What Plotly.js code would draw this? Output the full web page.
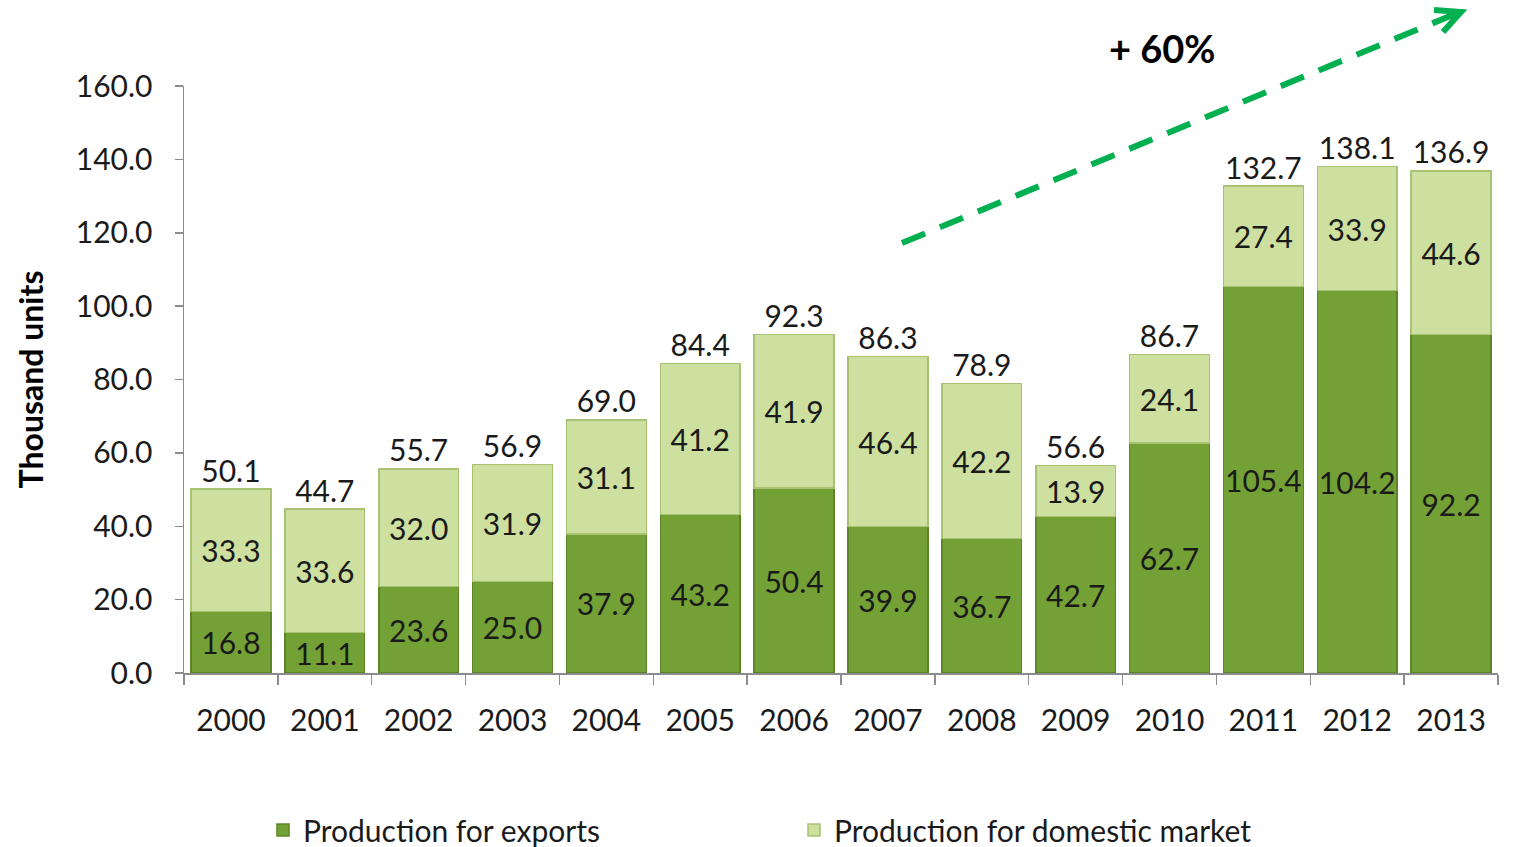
<!DOCTYPE html>
<html>
<head>
<meta charset="utf-8">
<script src="https://cdn.plot.ly/plotly-3.0.1.min.js"></script>
<style>html,body{margin:0;padding:0;background:#fff;}#chart{width:1516px;height:847px;}</style>
</head>
<body>
<div id="chart"></div>
<script>
const years = ["2000","2001","2002","2003","2004","2005","2006","2007","2008","2009","2010","2011","2012","2013"];
const exportsVals = [16.8, 11.1, 23.6, 25.0, 37.9, 43.2, 50.4, 39.9, 36.7, 42.7, 62.7, 105.4, 104.2, 92.2];
const domesticVals = [33.3, 33.6, 32.0, 31.9, 31.1, 41.2, 41.9, 46.4, 42.2, 13.9, 24.1, 27.4, 33.9, 44.6];
const totals = [50.1, 44.7, 55.7, 56.9, 69.0, 84.4, 92.3, 86.3, 78.9, 56.6, 86.7, 132.7, 138.1, 136.9];
const yTicks = [0, 20, 40, 60, 80, 100, 120, 140, 160];

const FONT = "Lato, 'Open Sans', sans-serif";
const W = 1516, H = 847;
const M = {l: 184, r: 18, t: 86, b: 174, autoexpand: false};
const pw = W - M.l - M.r, ph = H - M.t - M.b;
const px = x => (x - M.l) / pw;
const py = y => (H - M.b - y) / ph;

const traces = [
  {
    type: 'bar', name: 'Production for exports', x: years, y: exportsVals,
    text: exportsVals.map(v => v.toFixed(1)), textposition: 'inside', insidetextanchor: 'middle', textangle: 0,
    textfont: {family: FONT, size: 30, color: '#1a1a1a'},
    marker: {color: '#74a136', line: {color: '#5c8626', width: 1.5}},
    hoverinfo: 'none'
  },
  {
    type: 'bar', name: 'Production for domestic market', x: years, y: domesticVals,
    text: domesticVals.map(v => v.toFixed(1)), textposition: 'inside', insidetextanchor: 'middle', textangle: 0,
    textfont: {family: FONT, size: 30, color: '#1a1a1a'},
    marker: {color: '#cde0a0', line: {color: '#a6c272', width: 1.5}},
    hoverinfo: 'none'
  },
  {
    type: 'scatter', mode: 'text', x: years, y: totals,
    text: totals.map(v => v.toFixed(1)), textposition: 'top center',
    textfont: {family: FONT, size: 30, color: '#1a1a1a'},
    showlegend: false, hoverinfo: 'none', cliponaxis: false
  }
];

const layout = {
  width: W, height: H,
  margin: M,
  barmode: 'stack', bargap: 0.15,
  paper_bgcolor: '#fff', plot_bgcolor: '#fff',
  font: {family: FONT, size: 30, color: '#1a1a1a'},
  uniformtext: {mode: 'show', minsize: 30},
  xaxis: {
    type: 'category', range: [-0.5, 13.5], autorange: false,
    showline: true, linecolor: '#8c8c8c', linewidth: 1.5,
    ticks: 'outside', tickson: 'boundaries', ticklen: 10, tickcolor: '#8c8c8c', tickwidth: 1.5,
    ticklabelstandoff: 20,
    tickfont: {family: FONT, size: 30, color: '#1a1a1a'}, showgrid: false, zeroline: false
  },
  yaxis: {
    range: [0, 160], autorange: false, tickvals: yTicks, ticktext: yTicks.map(v => v.toFixed(1)),
    showline: true, linecolor: '#8c8c8c', linewidth: 1.5,
    ticks: 'outside', ticklen: 8, tickcolor: '#8c8c8c', tickwidth: 1.5,
    ticklabelstandoff: 16,
    tickfont: {family: FONT, size: 30, color: '#1a1a1a'}, showgrid: false, zeroline: false,
    title: {text: '<b>Thousand units</b>', font: {family: FONT, size: 32, color: '#000'}, standoff: 22}
  },
  legend: {
    orientation: 'h', x: px(263), xanchor: 'left', y: py(830), yanchor: 'middle',
    font: {family: FONT, size: 30, color: '#1a1a1a'},
    entrywidth: 486, entrywidthmode: 'pixels', traceorder: 'normal'
  },
  shapes: [
    {type: 'line', xref: 'paper', yref: 'paper', x0: px(902), y0: py(243), x1: px(1455), y1: py(14),
     line: {color: '#00b050', width: 6, dash: '25px,16px'}},
    {type: 'path', xref: 'paper', yref: 'paper',
     path: `M ${px(1434)} ${py(10)} L ${px(1461)} ${py(12)} L ${px(1443)} ${py(32)}`,
     line: {color: '#00b050', width: 6}}
  ],
  annotations: [
    {xref: 'paper', yref: 'paper', x: px(1162), y: py(48), xanchor: 'center', yanchor: 'middle',
     text: '<b>+ 60%</b>', showarrow: false, font: {family: FONT, size: 38, color: '#000'}}
  ]
};

Plotly.newPlot('chart', traces, layout, {displayModeBar: false, staticPlot: true});
</script>
</body>
</html>
